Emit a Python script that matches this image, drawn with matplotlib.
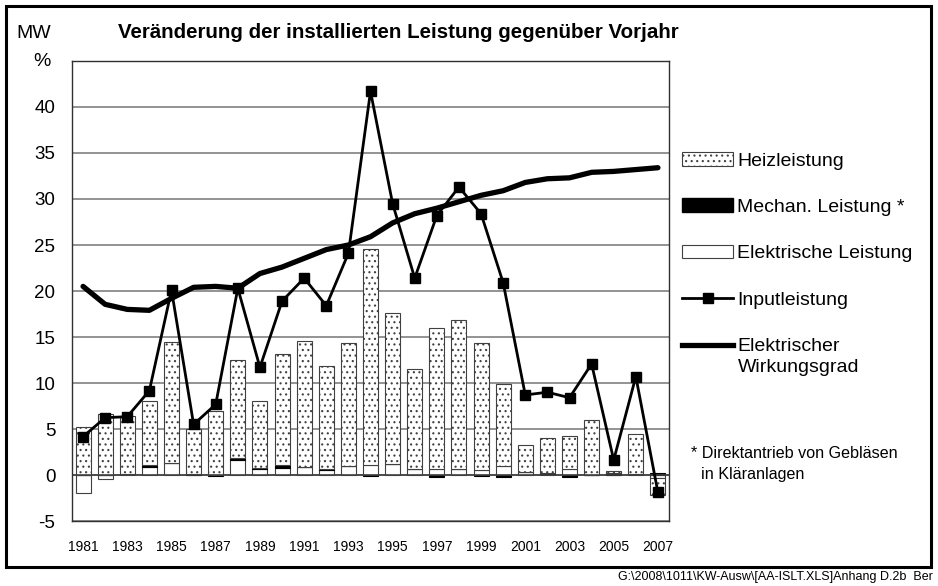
import numpy as np
import matplotlib
matplotlib.use("Agg")
import matplotlib.pyplot as plt
import matplotlib.transforms as mtransforms
from matplotlib.patches import Patch, Rectangle
from matplotlib.lines import Line2D
from matplotlib.legend_handler import HandlerLine2D

plt.rcParams['font.family'] = ['Liberation Sans', 'DejaVu Sans']
plt.rcParams['hatch.linewidth'] = 0.8

years = list(range(1981, 2008))
elektrisch = [-2.0, -0.4, 0.1, 0.9, 1.35, 0.0, 0.0, 1.6, 0.6, 0.8, 0.9, 0.55, 0.95, 1.1,
              1.15, 0.6, 0.7, 0.7, 0.5, 0.95, 0.3, 0.15, 0.6, 0.05, 0.0, 0.15, -0.3]
mechan = [0.0, 0.0, 0.0, 0.2, 0.0, 0.15, -0.15, 0.2, 0.15, 0.25, 0.0, 0.15, 0.0, -0.15,
          0.0, 0.0, -0.25, 0.0, -0.15, -0.25, 0.0, 0.05, -0.25, 0.0, 0.25, 0.0, 0.2]
heiz = [5.25, 6.6, 6.35, 6.9, 13.1, 4.85, 7.0, 10.7, 7.25, 12.1, 13.65, 11.1, 13.4, 23.5,
        16.45, 10.9, 15.3, 16.2, 13.9, 8.95, 2.95, 3.8, 3.6, 5.9, 0.2, 4.35, -1.85]
input_leistung = [4.17, 6.23, 6.34, 9.17, 20.1, 5.5, 7.68, 20.3, 11.7, 18.9, 21.4, 18.4, 24.1,
                  41.7, 29.5, 21.4, 28.2, 31.3, 28.4, 20.9, 8.7, 9.0, 8.4, 12.07, 1.63, 10.7, -1.9]
wirkungsgrad = [20.5, 18.55, 18.0, 17.9, 19.2, 20.4, 20.5, 20.3, 21.9, 22.6, 23.55, 24.5, 25.0,
                25.9, 27.4, 28.4, 29.0, 29.7, 30.4, 30.9, 31.8, 32.2, 32.3, 32.9, 33.0, 33.2, 33.4]

title = "Veränderung der installierten Leistung gegenüber Vorjahr"
labels = ["Heizleistung", "Mechan. Leistung *", "Elektrische Leistung", "Inputleistung",
          "Elektrischer\nWirkungsgrad"]

W, H = 938, 586
fig = plt.figure(figsize=(W / 100, H / 100), dpi=100)
ax = fig.add_axes([72 / W, 1 - 521 / H, (669 - 72) / W, (521 - 61) / H])

x = np.arange(len(years))
bw = 0.68
pos_bottom = np.zeros(len(years))
neg_bottom = np.zeros(len(years))

def stacked(vals, **kw):
    vals = np.asarray(vals, dtype=float)
    bottoms = np.where(vals >= 0, pos_bottom, neg_bottom)
    ax.bar(x, vals, bw, bottom=bottoms, zorder=2, **kw)
    pos_bottom[:] = pos_bottom + np.where(vals >= 0, vals, 0)
    neg_bottom[:] = neg_bottom + np.where(vals < 0, vals, 0)

stacked(elektrisch, facecolor='white', edgecolor='#404040', linewidth=0.8)
stacked(mechan, facecolor='black', edgecolor='black', linewidth=0.8)
stacked(heiz, facecolor='white', edgecolor='#404040', linewidth=0.8, hatch='...')

ax.axhline(0, color='#404040', lw=1.2, zorder=2.5)

ax.plot(x, input_leistung, color='black', lw=2, marker='s', markersize=7, zorder=3)
ax.plot(x, wirkungsgrad, color='black', lw=3.8, zorder=4, solid_capstyle='round')

ax.set_xlim(-0.5, len(years) - 0.5)
ax.set_ylim(-5, 45)
yt = list(range(-5, 50, 5))
ax.set_yticks(yt)
ax.set_yticklabels([str(v) if v < 45 else '' for v in yt], fontsize=13.5)
ax.set_xticks(x[::2])
ax.set_xticklabels([str(y) for y in years[::2]], fontsize=10)
ax.tick_params(axis='y', length=0, pad=12)
ax.tick_params(axis='x', length=0, pad=14)
ax.yaxis.grid(True, color='#808080', lw=1.2, zorder=0)
ax.set_axisbelow(True)
for s in ax.spines.values():
    s.set_color('#303030')
    s.set_linewidth(1.0)

fig.text(34 / W, 1 - 33 / H, "MW", ha='center', va='center', fontsize=14)
fig.text(42 / W, 1 - 61 / H, "%", ha='center', va='center', fontsize=14)
fig.text(118 / W, 1 - 33 / H, title, ha='left', va='center', fontsize=14.8, fontweight='bold')


class TopLineHandler(HandlerLine2D):
    """Place the line handle at the height of the first text line."""
    def __init__(self, shift_px, **kw):
        super().__init__(**kw)
        self.shift_px = shift_px

    def create_artists(self, legend, orig_handle, xdescent, ydescent, width, height,
                       fontsize, trans):
        arts = super().create_artists(legend, orig_handle, xdescent, ydescent, width,
                                      height, fontsize, trans)
        t = trans + mtransforms.Affine2D().translate(0, self.shift_px)
        for a in arts:
            a.set_transform(t)
        return arts


handles = [
    Patch(facecolor='white', edgecolor='#404040', hatch='...', linewidth=0.8),
    Patch(facecolor='black', edgecolor='black'),
    Patch(facecolor='white', edgecolor='#404040', linewidth=0.8),
    Line2D([], [], color='black', lw=2, marker='s', markersize=7),
    Line2D([], [], color='black', lw=3.8),
]
leg = ax.legend(handles, labels, loc='upper left', bbox_to_anchor=(682 / W, 1 - 152 / H),
                bbox_transform=fig.transFigure, frameon=False, fontsize=14,
                handlelength=2.63, handletextpad=0.22, labelspacing=1.48, borderpad=0,
                borderaxespad=0,
                handler_map={handles[4]: TopLineHandler(11.5)})
leg.get_texts()[4].set_linespacing(1.32)

fig.text(691 / W, 1 - 453 / H, "* Direktantrieb von Gebläsen", ha='left', va='center', fontsize=11.6)
fig.text(701 / W, 1 - 474 / H, "in Kläranlagen", ha='left', va='center', fontsize=11.6)

fig.patches.append(Rectangle((6 / W, 1 - 567 / H), (931 - 6) / W, (567 - 6) / H,
                             transform=fig.transFigure, fill=False, edgecolor='black',
                             linewidth=2.2, zorder=10))
fig.text(933 / W, 1 - 577 / H, "G:\\2008\\1011\\KW-Ausw\\[AA-ISLT.XLS]Anhang D.2b  Ber",
         ha='right', va='center', fontsize=9)

fig.savefig("out.png", dpi=100)
